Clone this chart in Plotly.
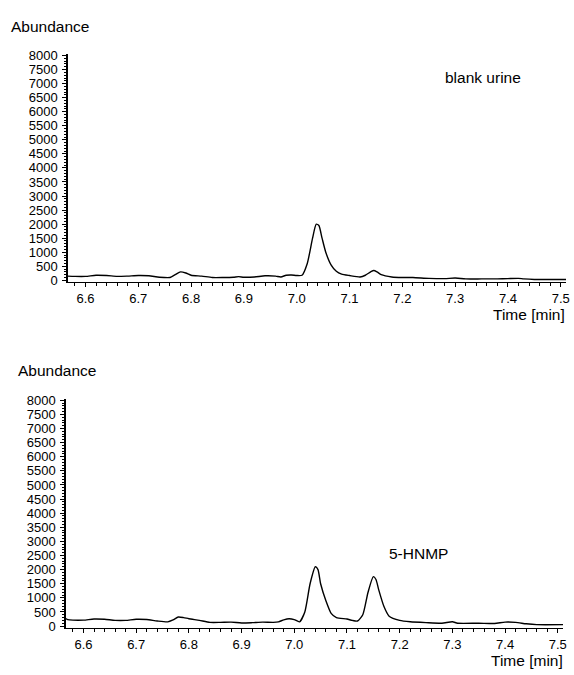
import plotly.graph_objects as go

# --- data ---
time_top = [6.566, 6.58, 6.60, 6.62, 6.64, 6.66, 6.68, 6.70, 6.72, 6.74, 6.76, 6.77, 6.78, 6.79,
            6.80, 6.82, 6.84, 6.86, 6.88, 6.89, 6.90, 6.92, 6.94, 6.96, 6.97, 6.98, 6.99, 7.00,
            7.01, 7.02, 7.03, 7.037, 7.042, 7.048, 7.055, 7.065, 7.075, 7.085, 7.10, 7.12, 7.13,
            7.14, 7.146, 7.152, 7.16, 7.18, 7.20, 7.22, 7.25, 7.28, 7.30, 7.32, 7.35, 7.38, 7.40,
            7.42, 7.43, 7.45, 7.48, 7.51]
abund_top = [150, 140, 140, 180, 170, 140, 150, 170, 160, 110, 100, 200, 300, 260,
             180, 150, 100, 100, 110, 130, 110, 120, 160, 150, 120, 180, 190, 170,
             180, 600, 1500, 2000, 1950, 1500, 1000, 550, 320, 220, 170, 120, 180,
             300, 350, 300, 200, 120, 100, 100, 70, 60, 80, 50, 50, 50, 60,
             70, 50, 30, 30, 30]

time_bot = [6.566, 6.57, 6.58, 6.60, 6.62, 6.64, 6.66, 6.68, 6.70, 6.72, 6.74, 6.76, 6.77, 6.78,
            6.79, 6.80, 6.82, 6.84, 6.86, 6.88, 6.90, 6.92, 6.94, 6.96, 6.97, 6.98, 6.99, 7.00,
            7.01, 7.02, 7.03, 7.04, 7.045, 7.05, 7.06, 7.07, 7.08, 7.10, 7.11, 7.12, 7.13, 7.14,
            7.15, 7.155, 7.16, 7.17, 7.18, 7.20, 7.22, 7.25, 7.28, 7.30, 7.31, 7.35, 7.38, 7.40,
            7.42, 7.44, 7.46, 7.51]
abund_bot = [260, 230, 210, 210, 250, 240, 200, 200, 240, 230, 180, 150, 220, 320,
             300, 260, 200, 130, 130, 140, 110, 120, 140, 130, 150, 220, 260, 230,
             150, 500, 1500, 2100, 2000, 1500, 900, 450, 300, 250, 200, 180, 400, 1200,
             1750, 1650, 1300, 700, 350, 200, 150, 120, 100, 150, 100, 100, 90, 140,
             130, 80, 50, 50]

x_ticks = [6.6, 6.7, 6.8, 6.9, 7.0, 7.1, 7.2, 7.3, 7.4, 7.5]
y_ticks = list(range(0, 8001, 500))

W, H = 574, 675
tick_font = dict(family="Liberation Sans, Arial", size=13, color="black")
txt_font = dict(family="Liberation Sans, Arial", size=15.5, color="black")

fig = go.Figure()
fig.add_trace(go.Scatter(x=time_top, y=abund_top, mode="lines", xaxis="x", yaxis="y",
                         line=dict(color="black", width=1.4, shape="spline", smoothing=0.6),
                         showlegend=False, hoverinfo="skip"))
fig.add_trace(go.Scatter(x=time_bot, y=abund_bot, mode="lines", xaxis="x2", yaxis="y2",
                         line=dict(color="black", width=1.4, shape="spline", smoothing=0.6),
                         showlegend=False, hoverinfo="skip"))

def xax(domain, anchor):
    return dict(domain=domain, anchor=anchor, range=[6.566, 7.51], tickvals=x_ticks,
                ticktext=[f"{v:.1f}" for v in x_ticks], ticks="outside", ticklen=4,
                tickcolor="black", showline=True, linecolor="black", linewidth=1.2,
                showgrid=False, zeroline=False, tickfont=tick_font,
                minor=dict(dtick=0.02, tick0=6.6, ticks="outside", ticklen=3, tickcolor="black",
                           showgrid=False))

def yax(domain, anchor):
    return dict(domain=domain, anchor=anchor, range=[-60, 8050], tickvals=y_ticks,
                ticks="outside", ticklen=4, tickcolor="black", showline=True,
                linecolor="black", linewidth=1.2, showgrid=False, zeroline=False,
                tickfont=tick_font, ticklabelstandoff=2,
                minor=dict(dtick=100, tick0=0, ticks="outside", ticklen=2, tickcolor="black",
                           showgrid=False))

def ann(text, x, y, xanchor):
    return dict(text=text, x=x / W, y=1 - y / H, xref="paper", yref="paper",
                xanchor=xanchor, yanchor="middle", showarrow=False, font=txt_font)

fig.update_layout(
    width=W, height=H, margin=dict(l=0, r=0, t=0, b=0),
    paper_bgcolor="white", plot_bgcolor="white",
    xaxis=xax([68 / W, 570 / W], "y"),
    yaxis=yax([(H - 281) / H, (H - 49) / H], "x"),
    xaxis2=xax([66 / W, 567 / W], "y2"),
    yaxis2=yax([(H - 633) / H, (H - 400) / H], "x2"),
    annotations=[
        ann("Abundance", 9, 21, "left"),
        ann("Time [min]", 571, 314, "right"),
        ann("blank urine", 486, 73, "center"),
        ann("Abundance", 16, 371, "left"),
        ann("Time [min]", 569, 666, "right"),
        ann("5-HNMP", 421, 557, "center"),
    ],
)

fig.write_html("out.html", config={"displayModeBar": False, "staticPlot": True})

# remove the default page margin so the figure fills the window exactly
with open("out.html", encoding="utf-8") as f:
    html = f.read()
html = html.replace("<head>", "<head><style>html,body{margin:0;padding:0;overflow:hidden;}</style>", 1)
with open("out.html", "w", encoding="utf-8") as f:
    f.write(html)
